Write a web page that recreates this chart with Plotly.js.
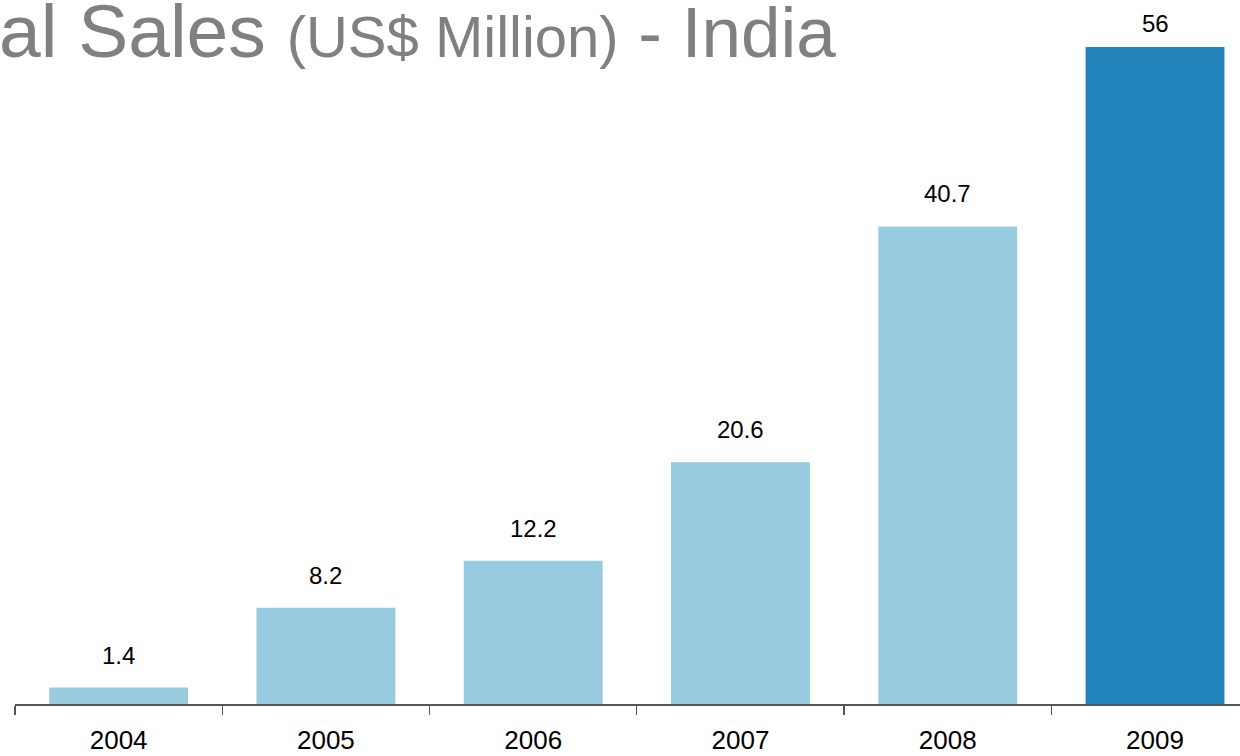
<!DOCTYPE html>
<html>
<head>
<meta charset="utf-8">
<script src="https://cdn.plot.ly/plotly-3.0.1.min.js"></script>
<style>html,body{margin:0;padding:0;background:#fff;}#chart{width:1240px;height:756px;}</style>
</head>
<body>
<div id="chart"></div>
<script>
const years = ['2004', '2005', '2006', '2007', '2008', '2009'];
const sales = [1.4, 8.2, 12.2, 20.6, 40.7, 56];
const labels = ['1.4', '8.2', '12.2', '20.6', '40.7', '56'];
const barColors = ['#99CBE0', '#99CBE0', '#99CBE0', '#99CBE0', '#99CBE0', '#2383BB'];

const Y_MAX = 60;
const PLOT_H = 704;

const trace = {
  type: 'bar',
  x: years,
  y: sales,
  marker: { color: barColors, line: { width: 0 } },
  hoverinfo: 'skip'
};

const valueAnnotations = years.map((yr, i) => {
  // keep labels inside the top edge of the picture
  const barTopPx = PLOT_H - sales[i] * PLOT_H / Y_MAX;
  const shift = Math.min(17, Math.max(4, barTopPx - 39));
  return {
    x: i, y: sales[i], xref: 'x', yref: 'y',
    text: labels[i], showarrow: false,
    xanchor: 'center', yanchor: 'bottom', yshift: shift,
    font: { family: 'Liberation Sans, Arial, sans-serif', size: 24, color: '#000' }
  };
});

const titleAnnotation = {
  xref: 'paper', yref: 'paper', x: 0, y: 1,
  xanchor: 'left', yanchor: 'top', xshift: -18, yshift: 13,
  showarrow: false,
  text: 'al Sales <span style="font-size:58px">(US$ Million)</span><span style="font-size:71px"> - India</span>',
  font: { family: 'Liberation Sans, Arial, sans-serif', size: 75, color: '#808080' }
};

const layout = {
  width: 1240, height: 756,
  margin: { l: 14.5, r: 0, t: 0, b: 52, pad: 0 },
  paper_bgcolor: '#fff', plot_bgcolor: '#fff',
  showlegend: false,
  bargap: 0.33,
  xaxis: {
    type: 'category',
    range: [-0.5, 5.41],
    showline: true, linecolor: '#555', linewidth: 1.5,
    ticks: 'outside', tickson: 'boundaries', ticklen: 9, tickwidth: 1.2, tickcolor: '#555',
    showgrid: false, zeroline: false,
    tickfont: { family: 'Liberation Sans, Arial, sans-serif', size: 26, color: '#000' },
    ticklabelstandoff: 12
  },
  yaxis: {
    range: [0, Y_MAX], visible: false, showgrid: false, zeroline: false
  },
  annotations: [titleAnnotation, ...valueAnnotations]
};

Plotly.newPlot('chart', [trace], layout, { displayModeBar: false, staticPlot: true });
</script>
</body>
</html>
